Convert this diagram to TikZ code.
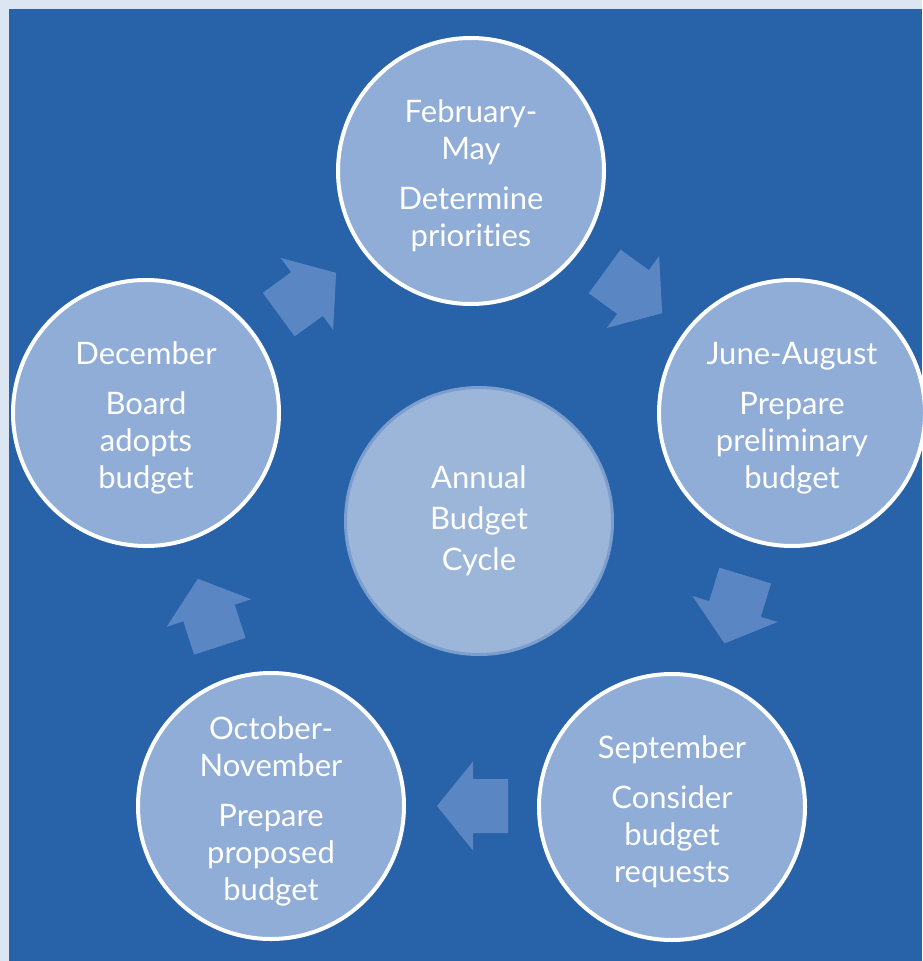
\documentclass[tikz,border=0pt]{standalone}
\usepackage{fontspec}
\setmainfont[Ligatures=NoCommon]{Lato}
\definecolor{bgblue}{HTML}{2862A8}
\definecolor{edgelight}{HTML}{DCE6F3}
\definecolor{circfill}{HTML}{8FADD6}
\definecolor{centfill}{HTML}{9CB6D9}
\definecolor{centedge}{HTML}{7C9ECF}
\definecolor{arrowfill}{HTML}{5A87C3}
\tikzset{
  stage/.style={circle, draw=white, line width=4pt, fill=circfill, minimum size=266pt, inner sep=0pt},
  stagetext/.style={text=white, align=center, inner sep=0pt, yshift=-5pt, font=\fontsize{31}{37}\selectfont},
  hub/.style={circle, draw=centedge, line width=3pt, fill=centfill, minimum size=267pt,
    inner sep=0pt, text=white, align=center, font=\fontsize{31}{41}\selectfont},
  blockarrow/.pic={\fill[arrowfill] (-35,-27) -- (0,-27) -- (0,-44.5) -- (36,0) -- (0,44.5) -- (0,27) -- (-35,27) -- cycle;}
}
\begin{document}
\begin{tikzpicture}[x=1pt,y=-1pt]
\useasboundingbox (0,0) rectangle (922,961);
\fill[edgelight] (0,0) rectangle (922,961);
\fill[bgblue] (9,9) rectangle (922,961);
\node[hub] (c0) at (479,521) {Annual\\Budget\\Cycle};
\node[stage] (c1) at (471,171) {};
\node[stage] (c2) at (792,413) {};
\node[stage] (c3) at (672,807) {};
\node[stage] (c4) at (271,806) {};
\node[stage] (c5) at (146,413) {};
\node[stagetext] (t1) at (c1) {February-\\May\\[13pt]Determine\\priorities};
\node[stagetext] (t2) at (c2) {June-August\\[13pt]Prepare\\preliminary\\budget};
\node[stagetext] (t3) at (c3) {September\\[13pt]Consider\\budget\\requests};
\node[stagetext] (t4) at (c4) {October-\\November\\[13pt]Prepare\\proposed\\budget};
\node[stagetext] (t5) at (c5) {December\\[13pt]Board\\adopts\\budget};
\pic[rotate=-36] (a1) at (633,292) {blockarrow};
\pic[rotate=-107] (a2) at (735,609) {blockarrow};
\pic[rotate=180] (a3) at (473,806) {blockarrow};
\pic[rotate=108] (a4) at (209,613) {blockarrow};
\pic[rotate=36] (a5) at (307,294) {blockarrow};
\end{tikzpicture}
\end{document}
